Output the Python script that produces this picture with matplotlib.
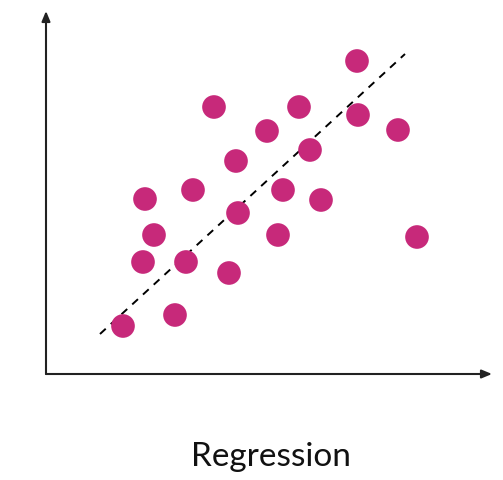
import matplotlib
matplotlib.use('Agg')
import matplotlib.pyplot as plt
import numpy as np

# point positions (origin at the axes corner)
xs = [311, 168, 253, 221, 312, 352, 264, 190, 99, 147, 237,
      275, 192, 108, 232, 371, 97, 140, 183, 129, 77]
ys = [313, 267, 267, 243, 259, 244, 224, 213, 175, 184, 184,
      174, 161, 139, 139, 137, 112, 112, 101, 59, 48]
# fitted line end points
line_x = [54, 359]
line_y = [40, 320]
title = 'Regression'

fig = plt.figure(figsize=(5.03, 4.81), dpi=100)
ax = fig.add_axes([0, 0, 1, 1])
ax.set_xlim(-46, 457)
ax.set_ylim(-106, 375)
ax.axis('off')

# axes with arrows
arrow = dict(arrowstyle='-|>,head_length=0.6,head_width=0.25',
             color='#222222', lw=1.5, shrinkA=0, shrinkB=0)
ax.annotate('', xy=(446, 0), xytext=(0, 0), arrowprops=arrow)
ax.annotate('', xy=(0, 363), xytext=(0, 0), arrowprops=arrow)

ax.plot(line_x, line_y, color='black', ls=(0, (4, 3.5)), lw=1.4, zorder=2)
ax.scatter(xs, ys, s=290, color='#c7297a', edgecolors='none', zorder=3)

ax.text(0.538, 0.05, title, transform=ax.transAxes, ha='center', va='center',
        fontsize=24, family=['Lato', 'DejaVu Sans'], color='#111111')

fig.savefig('out.png', dpi=100)
plt.close(fig)
